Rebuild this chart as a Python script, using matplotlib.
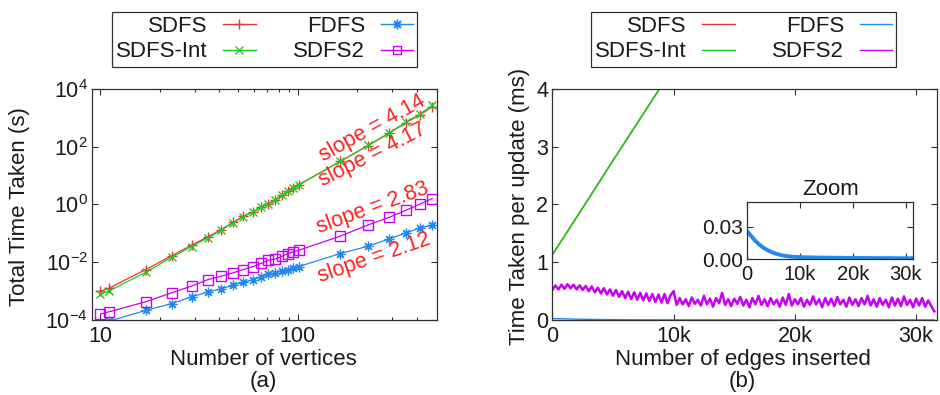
import numpy as np
import matplotlib.pyplot as plt
from matplotlib.lines import Line2D
from matplotlib.ticker import FixedLocator, NullFormatter

plt.rcParams['font.family'] = ['Liberation Sans', 'DejaVu Sans']
plt.rcParams['mathtext.fontset'] = 'custom'
plt.rcParams['mathtext.rm'] = 'Liberation Sans'
plt.rcParams['mathtext.it'] = 'Liberation Sans:italic'
plt.rcParams['text.color'] = '#1a1a1a'
plt.rcParams['axes.labelcolor'] = '#1a1a1a'

RED = '#f23232'
GREEN = '#22c822'
BLUE = '#2189f0'
PURPLE = '#c800f5'
EDGE = '#303030'

# (a) total time vs number of vertices (log-log)
vertices = [10, 11, 17, 23, 29, 35, 41, 47, 53, 59, 65, 71, 77, 83, 89, 95, 101,
            164, 227, 290, 353, 416, 479]
sdfs_total = [1.0e-3, 1.25e-3, 5.6e-3, 0.017, 0.039, 0.076, 0.135, 0.24, 0.39, 0.55,
              0.82, 1.07, 1.47, 2.07, 2.85, 3.7, 4.8, 31, 110, 294, 690, 1260, 2440]
sdfs_int_total = [7.7e-4, 1.0e-3, 4.5e-3, 0.015, 0.035, 0.070, 0.13, 0.23, 0.38, 0.54,
                  0.80, 1.05, 1.45, 2.05, 2.85, 3.7, 4.8, 31, 112, 300, 720, 1350, 2700]
fdfs_total = [7e-5, 9e-5, 2.16e-4, 3.7e-4, 6.4e-4, 9.3e-4, 1.2e-3, 1.6e-3, 2.0e-3, 2.5e-3,
              3.1e-3, 3.8e-3, 4.3e-3, 5.0e-3, 5.6e-3, 6.4e-3, 7.1e-3, 0.020, 0.036, 0.064,
              0.104, 0.155, 0.19]
sdfs2_total = [1.6e-4, 1.9e-4, 4.3e-4, 8.8e-4, 1.5e-3, 2.5e-3, 3.3e-3, 4.3e-3, 5.6e-3, 7.0e-3,
               9.1e-3, 0.0118, 0.013, 0.016, 0.020, 0.023, 0.026, 0.080, 0.197, 0.36,
               0.63, 1.04, 1.6]
slope_labels = ['slope = 4.14', 'slope = 4.17', 'slope = 2.83', 'slope = 2.12']

# (b) time per update vs number of edges inserted
line_edges = [0, 2500, 5000, 7500, 10000]
sdfs_update = [1.13, 1.94, 2.76, 3.57, 4.38]
sdfs_int_update = [1.13, 1.94, 2.76, 3.57, 4.38]

fdfs_step = 500
fdfs_update = [0.0255, 0.0230, 0.0200, 0.0172, 0.0148, 0.0127, 0.0109, 0.0094, 0.0081, 0.0069,
               0.0059, 0.0051, 0.0044, 0.0038, 0.0033, 0.0029, 0.0026, 0.0024, 0.0022, 0.0021,
               0.0020, 0.0019, 0.0019, 0.0018, 0.0018, 0.0017, 0.0017, 0.0016, 0.0016, 0.0016,
               0.0015, 0.0015, 0.0015, 0.0014, 0.0014, 0.0014, 0.0014, 0.0013, 0.0013, 0.0013,
               0.0013, 0.0013, 0.0012, 0.0012, 0.0012, 0.0012, 0.0012, 0.0012, 0.0011, 0.0011,
               0.0011, 0.0011, 0.0011, 0.0011, 0.0011, 0.0010, 0.0010, 0.0010, 0.0010, 0.0010,
               0.0010, 0.0010, 0.0010, 0.0010]

sdfs2_step = 250
sdfs2_update = [0.52, 0.60, 0.53, 0.61, 0.54, 0.62, 0.55, 0.61, 0.53, 0.60,
                0.52, 0.59, 0.50, 0.58, 0.48, 0.56, 0.46, 0.55, 0.44, 0.53,
                0.42, 0.52, 0.40, 0.50, 0.38, 0.49, 0.36, 0.48, 0.35, 0.47,
                0.34, 0.46, 0.33, 0.45, 0.31, 0.44, 0.30, 0.45, 0.29, 0.43,
                0.50, 0.26, 0.38, 0.27, 0.36, 0.24, 0.39, 0.28, 0.35, 0.25,
                0.42, 0.27, 0.37, 0.23, 0.38, 0.29, 0.47, 0.26, 0.36, 0.24,
                0.37, 0.28, 0.40, 0.25, 0.35, 0.22, 0.38, 0.27, 0.42, 0.26,
                0.36, 0.24, 0.38, 0.27, 0.35, 0.23, 0.39, 0.26, 0.45, 0.25,
                0.36, 0.27, 0.38, 0.23, 0.35, 0.26, 0.41, 0.27, 0.36, 0.22,
                0.38, 0.26, 0.37, 0.24, 0.40, 0.27, 0.35, 0.23, 0.39, 0.26,
                0.36, 0.24, 0.38, 0.27, 0.42, 0.25, 0.36, 0.23, 0.38, 0.26,
                0.35, 0.22, 0.39, 0.25, 0.37, 0.24, 0.41, 0.26, 0.35, 0.22,
                0.37, 0.25, 0.38, 0.23, 0.34, 0.24, 0.15]

fdfs_edges = np.arange(len(fdfs_update)) * fdfs_step
sdfs2_edges = np.arange(len(sdfs2_update)) * sdfs2_step

FS = 16
TICK_FS = 15.5

fig = plt.figure(figsize=(9.4, 3.95), dpi=100)
ax1 = fig.add_axes([0.0982, 0.1899, 0.3664, 0.5848])
ax2 = fig.add_axes([0.5876, 0.1899, 0.4089, 0.5848])
axz = fig.add_axes([0.7949, 0.3435, 0.1767, 0.1443])


def style_axes(ax, size=TICK_FS):
    for sp in ax.spines.values():
        sp.set_color(EDGE)
        sp.set_linewidth(0.9)
    ax.tick_params(which='both', direction='in', top=True, right=True,
                   colors=EDGE, labelcolor='#1a1a1a', labelsize=size, width=0.8)
    ax.tick_params(which='major', length=4)
    ax.tick_params(which='minor', length=2.5)


# ---- panel (a)
ax1.plot(vertices, sdfs_total, color=RED, marker='+', label='SDFS', lw=0.9, ms=7, mew=1.0)
ax1.plot(vertices, sdfs_int_total, color=GREEN, marker='x', label='SDFS-Int', ms=6, lw=0.9, mew=1.0)
ax1.plot(vertices, fdfs_total, color=BLUE, marker=(8, 2, 0), label='FDFS', ms=7, lw=0.9, mew=0.9)
ax1.plot(vertices, sdfs2_total, color=PURPLE, marker='s', mfc='none', label='SDFS2',
         ms=6.5, lw=0.9, mew=1.0)
ax1.set_xscale('log')
ax1.set_yscale('log')
ax1.set_xlim(9.1, 505)
ax1.set_ylim(1e-4, 1e4)
ax1.xaxis.set_major_locator(FixedLocator([10, 100]))
ax1.xaxis.set_minor_locator(FixedLocator([20, 30, 40, 50, 60, 70, 80, 90, 200, 300, 400]))
ax1.xaxis.set_minor_formatter(NullFormatter())
ax1.set_xticklabels(['10', '100'])
ax1.yaxis.set_major_locator(FixedLocator([1e-4, 1e-2, 1, 1e2, 1e4]))
ax1.yaxis.set_minor_locator(FixedLocator([]))
ax1.set_yticklabels([r'$\mathregular{10^{-4}}$', r'$\mathregular{10^{-2}}$',
                     r'$\mathregular{10^{0}}$', r'$\mathregular{10^{2}}$',
                     r'$\mathregular{10^{4}}$'])
style_axes(ax1)
ax1.tick_params(axis='x', pad=4)
ax1.tick_params(axis='y', pad=3)
ax1.set_xlabel('Number of vertices', fontsize=FS)
ax1.xaxis.set_label_coords(0.497, -0.125)
ax1.set_ylabel('Total Time Taken (s)', fontsize=FS)
ax1.yaxis.set_label_coords(-0.181, 0.49)
ax1.text(0.497, -0.268, '(a)', transform=ax1.transAxes, ha='center', va='center', fontsize=FS)

slope_pos = [(238, 447), (238, 52), (238, 0.76), (243, 0.014)]
slope_rot = [29, 27, 20, 19]
for s, (x, y), r in zip(slope_labels, slope_pos, slope_rot):
    ax1.text(x, y, s, color='#ff2020', fontsize=15.5, rotation=r, rotation_mode='anchor',
             ha='center', va='center')

# ---- panel (b)
ax2.plot(sdfs2_edges, sdfs2_update, color=PURPLE, lw=1.8)
ax2.plot(fdfs_edges, fdfs_update, color=BLUE, lw=1.0)
ax2.plot(line_edges, sdfs_update, color=RED, lw=1.0)
ax2.plot(line_edges, sdfs_int_update, color=GREEN, lw=1.2)
ax2.set_xlim(0, 31700)
ax2.set_ylim(0, 4)
ax2.set_xticks([0, 10000, 20000, 30000])
ax2.set_xticklabels(['0', '10k', '20k', '30k'])
ax2.set_yticks([0, 1, 2, 3, 4])
ax2.set_yticklabels(['0', '1', '2', '3', '4'])
style_axes(ax2)
ax2.tick_params(axis='x', pad=4)
ax2.tick_params(axis='y', pad=3)
ax2.set_xlabel('Number of edges inserted', fontsize=FS)
ax2.xaxis.set_label_coords(0.495, -0.125)
ax2.set_ylabel('Time Taken per update (ms)', fontsize=FS)
ax2.yaxis.set_label_coords(-0.058, 0.49)
ax2.text(0.495, -0.268, '(b)', transform=ax2.transAxes, ha='center', va='center', fontsize=FS)

# inset
axz.plot(fdfs_edges, fdfs_update, color=BLUE, lw=2.8)
axz.set_xlim(0, 31400)
axz.set_ylim(0, 0.0525)
axz.set_xticks([0, 10000, 20000, 30000])
axz.set_xticklabels(['0', '10k', '20k', '30k'])
axz.set_yticks([0, 0.03])
axz.set_yticklabels(['0.00', '0.03'])
style_axes(axz)
axz.tick_params(axis='x', labelsize=14.5, pad=4)
axz.tick_params(axis='y', labelsize=15, pad=3)
axz.set_title('Zoom', fontsize=FS, pad=5)

# ---- legends (gnuplot style: text then sample)
leg_kw = dict(loc='center', ncol=2, markerfirst=False, fontsize=FS, frameon=True,
              fancybox=False, edgecolor=EDGE, framealpha=1, handlelength=1.45,
              handletextpad=0.7, columnspacing=1.7, labelspacing=0.2, borderpad=0.2,
              borderaxespad=0, numpoints=1)
ha = [Line2D([], [], color=RED, marker='+', lw=1, ms=7),
      Line2D([], [], color=GREEN, marker='x', lw=1, ms=6),
      Line2D([], [], color=BLUE, marker=(8, 2, 0), lw=1, ms=7),
      Line2D([], [], color=PURPLE, marker='s', mfc='none', lw=1, ms=6)]
names = ['SDFS', 'SDFS-Int', 'FDFS', 'SDFS2']
la = fig.legend(ha, names, bbox_to_anchor=(0.2814, 0.9008), **leg_kw)
la.get_frame().set_linewidth(0.9)
hb = [Line2D([], [], color=RED, lw=1),
      Line2D([], [], color=GREEN, lw=1),
      Line2D([], [], color=BLUE, lw=1),
      Line2D([], [], color=PURPLE, lw=1)]
lb = fig.legend(hb, names, bbox_to_anchor=(0.791, 0.9008), **leg_kw)
lb.get_frame().set_linewidth(0.9)

fig.savefig('out.png', dpi=100)
